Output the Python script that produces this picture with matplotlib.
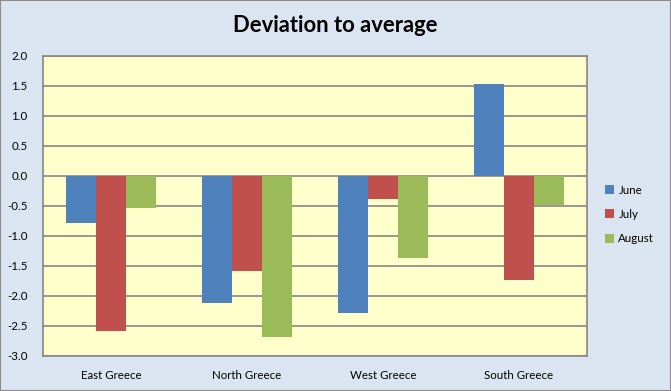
import numpy as np
import matplotlib.pyplot as plt
from matplotlib.patches import Rectangle

regions = ["East Greece", "North Greece", "West Greece", "South Greece"]
months = ["June", "July", "August"]
june = [-0.78, -2.11, -2.28, 1.53]
july = [-2.58, -1.58, -0.38, -1.73]
august = [-0.53, -2.68, -1.36, -0.48]
colors = ["#4F81BD", "#C0504D", "#9BBB59"]

plt.rcParams['font.family'] = ['Lato', 'DejaVu Sans']

fig = plt.figure(figsize=(6.71, 3.91), dpi=100, facecolor="#DBE5F1")
fig.patches.append(Rectangle((0, 0), 1, 1, transform=fig.transFigure,
                             fill=False, edgecolor="#8C8C8C", linewidth=1.5))
W, H = 671, 391
ax = fig.add_axes([43 / W, 1 - 356 / H, (587 - 43) / W, (356 - 56) / H])
ax.set_facecolor("#FFFFCC")

x = np.arange(len(regions))
w = 0.22
for i, (vals, name) in enumerate(zip([june, july, august], months)):
    ax.bar(x + (i - 1) * w, vals, w, color=colors[i], label=name, zorder=3)

ax.set_xlim(-0.5, 3.5)
ax.set_ylim(-3, 2)
ax.set_yticks(np.arange(-3, 2.01, 0.5))
ax.set_yticklabels(["%.1f" % v for v in np.arange(-3, 2.01, 0.5)])
ax.yaxis.grid(True, color="#868686", linewidth=1.2, zorder=1)
ax.set_xticks(x)
ax.set_xticklabels(regions)
ax.tick_params(axis="both", length=0, labelsize=8.3, colors="black")
ax.tick_params(axis="y", pad=11)
ax.tick_params(axis="x", pad=10)
for s in ax.spines.values():
    s.set_color("#868686")
    s.set_linewidth(1.2)

fig.text(335 / W, 1 - 26 / H, "Deviation to average", ha="center", va="center",
         fontsize=15.8, fontweight="bold")

ax.legend(loc="upper left", bbox_to_anchor=(600 / W, 1 - 180 / H),
          bbox_transform=fig.transFigure, frameon=False, fontsize=8.3,
          handlelength=0.8, handleheight=0.8, handletextpad=0.4,
          labelspacing=1.15, borderaxespad=0)

fig.savefig("out.png", dpi=100, facecolor=fig.get_facecolor())
